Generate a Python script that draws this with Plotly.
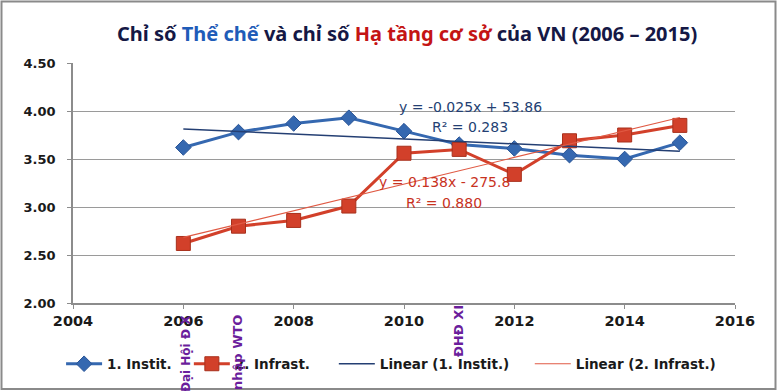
import numpy as np
import plotly.graph_objects as go

years = [2006, 2007, 2008, 2009, 2010, 2011, 2012, 2013, 2014, 2015]
instit = [3.62, 3.78, 3.87, 3.93, 3.79, 3.65, 3.61, 3.54, 3.50, 3.67]
infrast = [2.62, 2.80, 2.86, 3.01, 3.56, 3.60, 3.34, 3.69, 3.75, 3.85]

series_names = ["1. Instit.", "2. Infrast.", "Linear (1. Instit.)", "Linear (2. Infrast.)"]
eq_instit = ["y = -0.025x + 53.86", "R² = 0.283"]
eq_infrast = ["y = 0.138x - 275.8", "R² = 0.880"]
events = [("Đại Hội Đ X", 2006.04, 12), ("nhập WTO", 2006.98, 13), ("ĐHĐ XI", 2010.98, 13)]
y_ticks = [2.0, 2.5, 3.0, 3.5, 4.0, 4.5]
x_ticks = [2004, 2006, 2008, 2010, 2012, 2014, 2016]

BLUE = "#3568B0"
RED = "#D2402A"
NAVY = "#243F73"
TREND_RED = "#E05A44"
PURPLE = "#6B1E9C"
FONT = "DejaVu Sans"

yr = np.array(years, dtype=float)
p1 = np.polyfit(yr, instit, 1)
p2 = np.polyfit(yr, infrast, 1)
tx = np.array([years[0], years[-1]], dtype=float)

fig = go.Figure()
fig.add_trace(go.Scatter(
    x=years, y=instit, name=series_names[0], mode="lines+markers",
    line=dict(color=BLUE, width=3),
    marker=dict(symbol="diamond", size=12, color=BLUE, line=dict(color="#2A5597", width=1)),
    legend="legend"))
fig.add_trace(go.Scatter(
    x=years, y=infrast, name=series_names[1], mode="lines+markers",
    line=dict(color=RED, width=3),
    marker=dict(symbol="square", size=14, color=RED, line=dict(color="#A8301C", width=1)),
    legend="legend2"))
fig.add_trace(go.Scatter(
    x=tx, y=np.polyval(p1, tx), name=series_names[2], mode="lines",
    line=dict(color=NAVY, width=1.5), legend="legend3"))
fig.add_trace(go.Scatter(
    x=tx, y=np.polyval(p2, tx), name=series_names[3], mode="lines",
    line=dict(color=TREND_RED, width=1.2), legend="legend4"))

leg_common = dict(orientation="h", yanchor="middle", y=-0.254, xanchor="left",
                  font=dict(family=FONT, size=13.5, color="#1a1a1a", weight="bold"),
                  bgcolor="rgba(0,0,0,0)", itemwidth=36)
ann = []
eqfont_b = dict(family=FONT, size=14, color=NAVY)
eqfont_r = dict(family=FONT, size=14, color="#C8321E")
ann.append(dict(x=2011.2, y=4.04, xref="x", yref="y", text=eq_instit[0], showarrow=False, font=eqfont_b))
ann.append(dict(x=2011.2, y=3.83, xref="x", yref="y", text=eq_instit[1], showarrow=False, font=eqfont_b))
ann.append(dict(x=2010.73, y=3.26, xref="x", yref="y", text=eq_infrast[0], showarrow=False, font=eqfont_r))
ann.append(dict(x=2010.73, y=3.04, xref="x", yref="y", text=eq_infrast[1], showarrow=False, font=eqfont_r))
for i, (txt, xv, fs) in enumerate(events):
    ann.append(dict(x=xv, y=-0.042 if i < 2 else 0.0, xref="x", yref="paper", text="<b>%s</b>" % txt,
                    textangle=-90, showarrow=False, xanchor="center", yanchor="top",
                    font=dict(family=FONT, size=fs, color=PURPLE)))
title = ("<b><span style='color:#151845'>Chỉ số </span><span style='color:#1F5CB8'>Thể chế</span>"
         "<span style='color:#151845'> và chỉ số </span><span style='color:#C41414'>Hạ tầng cơ sở</span>"
         "<span style='color:#151845'> của VN (2006 – 2015)</span></b>")
ann.append(dict(x=(407 - 73) / 662, y=(303 - 33) / 240, xref="paper", yref="paper", text=title,
                showarrow=False, xanchor="center", yanchor="middle",
                font=dict(family="Noto Sans", size=20)))

fig.update_layout(
    width=777, height=391,
    margin=dict(l=73, r=42, t=63, b=88),
    paper_bgcolor="white", plot_bgcolor="white",
    showlegend=True,
    legend=dict(leg_common, x=-0.018),
    legend2=dict(leg_common, x=0.175),
    legend3=dict(leg_common, x=0.394),
    legend4=dict(leg_common, x=0.690),
    annotations=ann,
    xaxis=dict(range=[2004, 2016], tickvals=x_ticks, ticktext=[str(v) for v in x_ticks],
               showgrid=False, showline=True, linecolor="#8c8c8c", linewidth=1.5,
               ticks="outside", ticklen=4, tickcolor="#8c8c8c",
               tickfont=dict(family=FONT, size=14.5, color="#1a1a1a", weight="bold"), zeroline=False),
    yaxis=dict(range=[2.0, 4.5], tickvals=y_ticks, ticktext=["%.2f" % v for v in y_ticks],
               showgrid=True, gridcolor="#9a9a9a", gridwidth=1.2,
               showline=True, linecolor="#8c8c8c", linewidth=1.5,
               ticks="outside", ticklen=4, tickcolor="#8c8c8c", ticklabelstandoff=9,
               tickfont=dict(family=FONT, size=13, color="#1a1a1a", weight="bold"), zeroline=False),
    shapes=[dict(type="rect", xref="paper", yref="paper",
                 x0=(1.5 - 73) / 662, x1=(775.5 - 73) / 662,
                 y0=(303 - 389) / 240, y1=(303 - 1.5) / 240,
                 line=dict(color="#8a8a8a", width=2))],
)
fig.write_html("out.html", config={"displayModeBar": False},
               post_script="document.body.style.margin='0';")
